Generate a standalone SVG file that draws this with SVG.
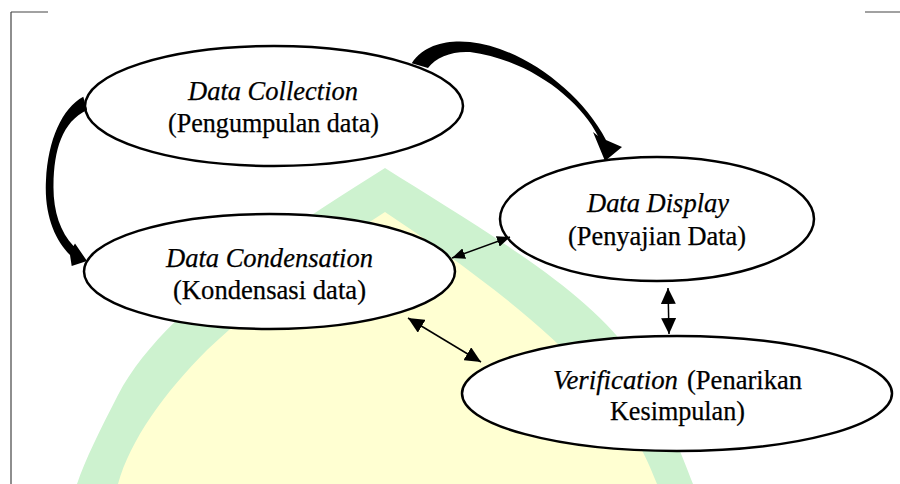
<svg xmlns="http://www.w3.org/2000/svg" width="900" height="484" viewBox="0 0 900 484">
  <style>
    .node { fill: #ffffff; stroke: #000000; stroke-width: 2.5; }
    .t { font-size: 27px; fill: #000000; stroke: #000000; stroke-width: 0.25; }
    .it { font-style: italic; }
    .thin { stroke: #000000; stroke-width: 1.5; fill: none; }
    .frame { stroke: #444444; stroke-width: 1.2; fill: none; }
    .thick { fill: #000000; stroke: none; }
  </style>
  <defs>
    <marker id="ahS" viewBox="0 0 13 11" markerWidth="13" markerHeight="11" refX="13" refY="5.5" orient="auto-start-reverse" markerUnits="userSpaceOnUse">
      <path d="M0,0 L13,5.5 L0,11 Z" fill="#000"/>
    </marker>
    <marker id="ahL" viewBox="0 0 16 15" markerWidth="16" markerHeight="15" refX="16" refY="7.5" orient="auto-start-reverse" markerUnits="userSpaceOnUse">
      <path d="M0,0 L16,7.5 L0,15 Z" fill="#000"/>
    </marker>
  </defs>

  <rect x="0" y="0" width="900" height="484" fill="#ffffff"/>

  <g id="watermark">
    <path d="M385,168 C 300,222 165,305 118,395 C 100,430 85,460 77,484 L 693,484 C 680,450 660,400 633,357 C 590,290 470,222 385,168 Z" fill="#cdf2cf"/>
    <path d="M385,212 C 310,260 252,308 207,350 C 165,392 130,440 118,484 L 657,484 C 640,440 620,410 590,377 C 540,320 460,262 385,212 Z" fill="#ffffd2"/>
  </g>

  <g id="frame">
    <path class="frame" d="M11,12 H48 M11,12 V484 M865,12 H900"/>
  </g>

  <g id="node-collection" font-family="Liberation Serif, Times New Roman, serif">
    <ellipse class="node" cx="274" cy="106" rx="189" ry="60"/>
    <text class="t it" x="188" y="100" textLength="170" lengthAdjust="spacingAndGlyphs">Data Collection</text>
    <text class="t" x="168" y="132" textLength="211" lengthAdjust="spacingAndGlyphs">(Pengumpulan data)</text>
  </g>

  <g id="node-condensation" font-family="Liberation Serif, Times New Roman, serif">
    <ellipse class="node" cx="269.5" cy="271.5" rx="185.5" ry="57.5"/>
    <text class="t it" x="166" y="267" textLength="207" lengthAdjust="spacingAndGlyphs">Data Condensation</text>
    <text class="t" x="173" y="299" textLength="193" lengthAdjust="spacingAndGlyphs">(Kondensasi data)</text>
  </g>

  <g id="node-display" font-family="Liberation Serif, Times New Roman, serif">
    <ellipse class="node" cx="657" cy="219" rx="157" ry="62"/>
    <text class="t it" x="587" y="212" textLength="142" lengthAdjust="spacingAndGlyphs">Data Display</text>
    <text class="t" x="568" y="245" textLength="178" lengthAdjust="spacingAndGlyphs">(Penyajian Data)</text>
  </g>

  <g id="node-verification" font-family="Liberation Serif, Times New Roman, serif">
    <ellipse class="node" cx="677" cy="393.5" rx="215" ry="57.5"/>
    <text class="t it" x="553" y="389" textLength="125" lengthAdjust="spacingAndGlyphs">Verification</text>
    <text class="t" x="687" y="389" textLength="115" lengthAdjust="spacingAndGlyphs">(Penarikan</text>
    <text class="t" x="610" y="420" textLength="135" lengthAdjust="spacingAndGlyphs">Kesimpulan)</text>
  </g>

  <g id="connectors">
    <path class="thick" d="M411.7,63.3 C 425,43 450,40 470,42 C 520,47 580,90 606,140 L 622,147 L 605,161 L 593,132 L 598,136 C 580,100 530,60 470,52 C 452,51 436,57 428,68 Z"/>
    <path class="thick" d="M83.3,96.7 C 62,108 48,140 46,180 C 44,215 55,240 70,255 L 71.7,266 L 87,261 L 75,243.5 L 73.5,246 C 60,232 53,210 53.5,185 C 54,150 62,122 87,110 Z"/>
    <line class="thin" x1="452" y1="258" x2="510" y2="237" marker-start="url(#ahS)" marker-end="url(#ahS)"/>
    <line class="thin" x1="668" y1="288" x2="669" y2="334" marker-start="url(#ahL)" marker-end="url(#ahL)"/>
    <line class="thin" x1="408" y1="318" x2="481" y2="362" marker-start="url(#ahL)" marker-end="url(#ahL)"/>
  </g>
</svg>
